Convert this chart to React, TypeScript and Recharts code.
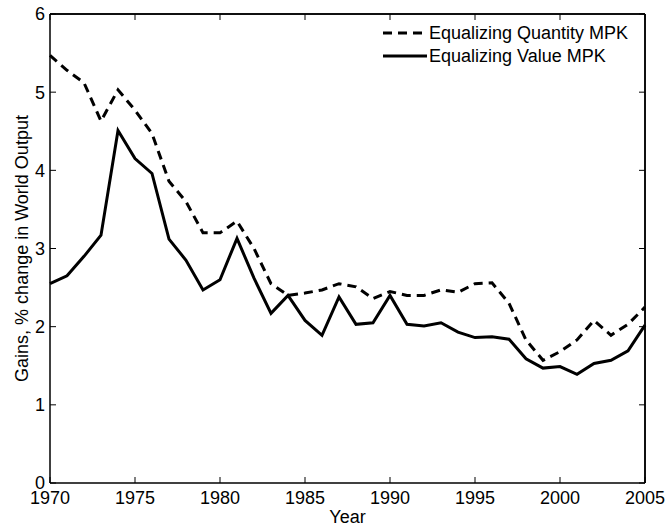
import { LineChart, Line, XAxis, YAxis, Legend, ReferenceLine } from "recharts";

const years = [
  1970, 1971, 1972, 1973, 1974, 1975, 1976, 1977, 1978, 1979, 1980, 1981,
  1982, 1983, 1984, 1985, 1986, 1987, 1988, 1989, 1990, 1991, 1992, 1993,
  1994, 1995, 1996, 1997, 1998, 1999, 2000, 2001, 2002, 2003, 2004, 2005,
];

const quantityMPK = [
  5.47, 5.28, 5.12, 4.63, 5.03, 4.77, 4.47, 3.86, 3.6, 3.2, 3.2, 3.35, 3.0,
  2.55, 2.4, 2.43, 2.47, 2.55, 2.51, 2.36, 2.45, 2.4, 2.4, 2.47, 2.44, 2.55,
  2.56, 2.3, 1.83, 1.57, 1.68, 1.83, 2.08, 1.89, 2.03, 2.25,
];

const valueMPK = [
  2.55, 2.65, 2.9, 3.17, 4.51, 4.15, 3.96, 3.12, 2.85, 2.47, 2.6, 3.13, 2.62,
  2.17, 2.4, 2.08, 1.89, 2.38, 2.03, 2.05, 2.4, 2.03, 2.01, 2.05, 1.93, 1.86,
  1.87, 1.84, 1.59, 1.47, 1.49, 1.39, 1.53, 1.57, 1.69, 2.02,
];

const xTicks = [1970, 1975, 1980, 1985, 1990, 1995, 2000, 2005];
const yTicks = [0, 1, 2, 3, 4, 5, 6];

const seriesNames = ["Equalizing Quantity MPK", "Equalizing Value MPK"];

const FONT = "'Liberation Sans', Arial, Helvetica, sans-serif";

// table for recharts
const data = years.map((year, i) => ({
  year,
  quantity: quantityMPK[i],
  value: valueMPK[i],
}));

const tickStyle = { fill: "#000", fontSize: 18, fontFamily: FONT };
// top/right axes: tick marks only
const blank = () => "";

const LegendBox = () => (
  <svg width={270} height={50}>
    <line x1={0} x2={44} y1={11} y2={11} stroke="#000" strokeWidth={3} strokeDasharray="9 6" />
    <text x={46} y={11} dominantBaseline="central" fontSize={18} fontFamily={FONT}>
      {seriesNames[0]}
    </text>
    <line x1={0} x2={44} y1={34} y2={34} stroke="#000" strokeWidth={3} />
    <text x={46} y={34} dominantBaseline="central" fontSize={18} fontFamily={FONT}>
      {seriesNames[1]}
    </text>
  </svg>
);

export default function App() {
  return (
    <div style={{ position: "absolute", left: 0, top: 0, width: 668, height: 529, background: "#fff" }}>
      <LineChart
        width={668}
        height={529}
        data={data}
        margin={{ top: 4, right: 13, bottom: 16, left: 10 }}
      >
        <XAxis
          dataKey="year"
          type="number"
          domain={[1970, 2005]}
          ticks={xTicks}
          interval={0}
          height={30}
          tickSize={-6}
          tickMargin={14}
          tick={tickStyle}
          axisLine={{ stroke: "#000", strokeWidth: 1.5 }}
          tickLine={{ stroke: "#000" }}
          label={{ value: "Year", position: "insideBottom", offset: -10, fill: "#000", fontSize: 18, fontFamily: FONT }}
        />
        <XAxis
          xAxisId="top"
          orientation="top"
          dataKey="year"
          type="number"
          domain={[1970, 2005]}
          ticks={xTicks}
          interval={0}
          height={10}
          tickSize={-6}
          tick={tickStyle}
          tickFormatter={blank}
          axisLine={{ stroke: "#000", strokeWidth: 1.5 }}
          tickLine={{ stroke: "#000" }}
        />
        <YAxis
          type="number"
          domain={[0, 6]}
          ticks={yTicks}
          interval={0}
          width={40}
          tickSize={-6}
          tickMargin={11}
          tick={tickStyle}
          axisLine={{ stroke: "#000", strokeWidth: 1.5 }}
          tickLine={{ stroke: "#000" }}
          label={{
            value: "Gains, % change in World Output",
            angle: -90,
            position: "insideLeft",
            offset: 12,
            style: { textAnchor: "middle" },
            fill: "#000",
            fontSize: 18,
            fontFamily: FONT,
          }}
        />
        <YAxis
          yAxisId="right"
          orientation="right"
          type="number"
          domain={[0, 6]}
          ticks={yTicks}
          interval={0}
          width={10}
          tickSize={-6}
          tick={tickStyle}
          tickFormatter={blank}
          axisLine={{ stroke: "#000", strokeWidth: 1.5 }}
          tickLine={{ stroke: "#000" }}
        />
        {/* box edges at the domain limits */}
        <ReferenceLine y={6} stroke="#000" strokeWidth={1.5} ifOverflow="visible" />
        <ReferenceLine x={2005} stroke="#000" strokeWidth={1.5} ifOverflow="visible" />
        <Legend
          layout="vertical"
          verticalAlign="middle"
          align="center"
          wrapperStyle={{ position: "absolute", left: 383, top: 22, width: 270 }}
          content={() => <LegendBox />}
        />
        <Line
          type="linear"
          dataKey="quantity"
          name={seriesNames[0]}
          xAxisId="top"
          yAxisId="right"
          stroke="#000"
          strokeWidth={3}
          strokeDasharray="9 6"
          dot={false}
          isAnimationActive={false}
        />
        <Line
          type="linear"
          dataKey="value"
          name={seriesNames[1]}
          stroke="#000"
          strokeWidth={3}
          dot={false}
          isAnimationActive={false}
        />
      </LineChart>
    </div>
  );
}
